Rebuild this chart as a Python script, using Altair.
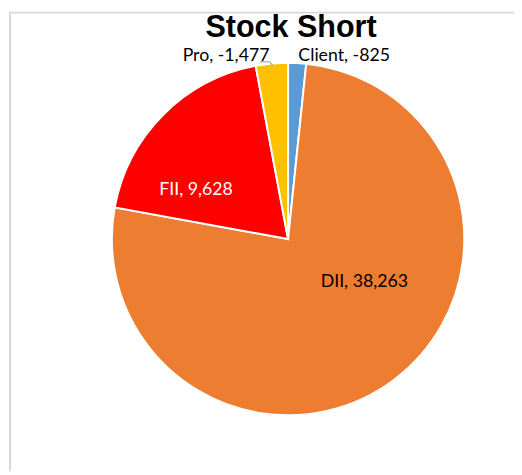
import altair as alt
import pandas as pd

categories = ["Client", "DII", "FII", "Pro"]
values = [-825, 38263, 9628, -1477]
colors = ["#5B9BD5", "#ED7D31", "#FF0000", "#FFC000"]

df = pd.DataFrame({
    "category": categories,
    "value": values,
    "size": [abs(v) for v in values],
    "idx": list(range(len(categories))),
    "label": [f"{c}, {v:,}" for c, v in zip(categories, values)],
})

W, H = 514, 467
DX = 4
CX, CY, R = 280.5 + DX, 231, 179
FONT = "Lato"

base = alt.Chart(df)

pie = base.mark_arc(outerRadius=R, stroke="white", strokeWidth=2).encode(
    theta=alt.Theta("size:Q", stack=True),
    order=alt.Order("idx:Q"),
    color=alt.Color("category:N", scale=alt.Scale(domain=categories, range=colors), legend=None),
    x=alt.value(CX),
    y=alt.value(CY),
)

label_pos = {
    "Client": (337.5 + DX, 50, "black"),
    "DII": (358 + DX, 280, "black"),
    "FII": (187 + DX, 186, "white"),
    "Pro": (217.5 + DX, 50, "black"),
}

layers = [pie]
for cat, (lx, ly, col) in label_pos.items():
    layers.append(
        base.transform_filter(alt.datum.category == cat)
        .mark_text(font=FONT, fontSize=18, color=col, align="center", baseline="alphabetic")
        .encode(text="label:N", x=alt.value(lx), y=alt.value(ly))
    )

one = alt.Chart(pd.DataFrame({"a": [0]}))
leader1 = one.mark_rule(color="#A6A6A6", strokeWidth=1.2).encode(
    x=alt.value(252 + DX), x2=alt.value(262 + DX), y=alt.value(51))
leader2 = one.mark_rule(color="#A6A6A6", strokeWidth=1.2).encode(
    x=alt.value(262 + DX), x2=alt.value(265 + DX), y=alt.value(51), y2=alt.value(55))
frame_left = one.mark_rule(color="#D9D9D9", strokeWidth=2).encode(
    x=alt.value(2), y=alt.value(0), y2=alt.value(H))
frame_top = one.mark_rule(color="#D9D9D9", strokeWidth=2).encode(
    x=alt.value(2), x2=alt.value(W), y=alt.value(1))
title = one.mark_text(font="Liberation Sans", fontWeight="bold", fontSize=31, color="black",
                      align="center", baseline="alphabetic").encode(
    text=alt.value("Stock Short"), x=alt.value(283.5 + DX), y=alt.value(26))

layers += [leader1, leader2, frame_left, frame_top, title]

chart = alt.layer(*layers).properties(
    width=W, height=H, padding=0, autosize=alt.AutoSizeParams(type="none")
).configure_view(stroke=None)

chart.save("out.html", embed_options={"renderer": "svg", "actions": False})
